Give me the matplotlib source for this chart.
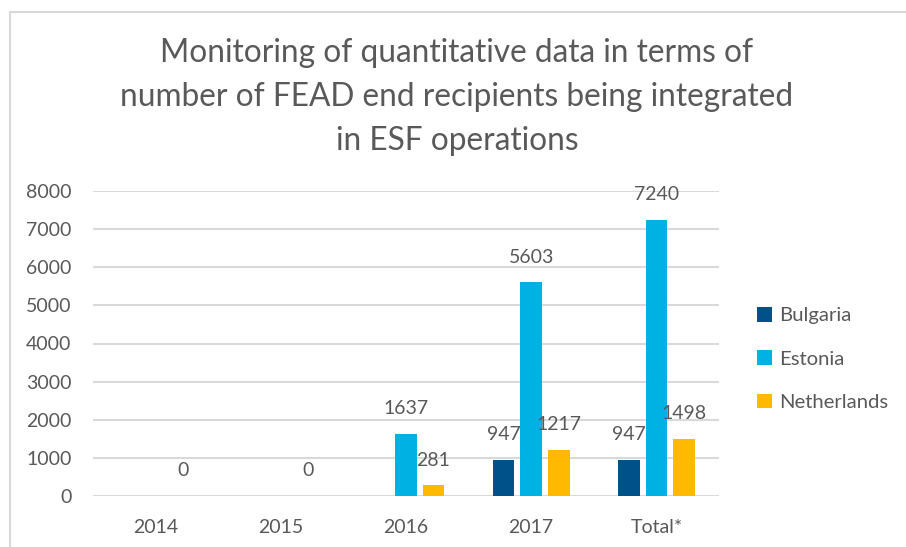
import matplotlib
matplotlib.use("Agg")
import matplotlib.pyplot as plt
import matplotlib.patches as mpatches
import numpy as np

categories = ["2014", "2015", "2016", "2017", "Total*"]
bulgaria = [np.nan, np.nan, np.nan, 947, 947]
estonia = [np.nan, np.nan, 1637, 5603, 7240]
netherlands = [0, 0, 281, 1217, 1498]
series_names = ["Bulgaria", "Estonia", "Netherlands"]
colors = ["#00508A", "#00B2E3", "#FFBA00"]
yticks = [0, 1000, 2000, 3000, 4000, 5000, 6000, 7000, 8000]
title = ("Monitoring of quantitative data in terms of\n"
         "number of FEAD end recipients being integrated\n"
         "in ESF operations")

plt.rcParams['font.family'] = ['Lato', 'DejaVu Sans']
txt = "#595959"
W, H = 906, 547
fig = plt.figure(figsize=(W / 100, H / 100), dpi=100)
fig.patch.set_facecolor("white")

# chart border (left and top visible)
fig.patches.append(mpatches.Rectangle((10 / W, -0.1), 1.2, 1 - 12 / H + 0.1,
                                      transform=fig.transFigure, fill=False,
                                      edgecolor="#D9D9D9", linewidth=1.5))

ax = fig.add_axes([93 / W, (H - 496) / H, (719 - 93) / W, (496 - 191) / H])
x = np.arange(len(categories))
width = 0.172
step = 0.22
series = [bulgaria, estonia, netherlands]
for i, (vals, name, c) in enumerate(zip(series, series_names, colors)):
    off = (i - 1) * step
    ax.bar(x + off, vals, width, color=c, label=name, zorder=3)
    for xi, v in zip(x, vals):
        if not np.isnan(v):
            ax.annotate(f"{int(v)}", (xi + off, v), xytext=(0, 18),
                        textcoords="offset points", ha="center", va="center",
                        fontsize=14, color=txt, zorder=4)

ax.set_xlim(-0.5, len(categories) - 0.5)
ax.set_ylim(0, 8000)
ax.set_yticks(yticks)
ax.set_xticks(x)
ax.set_xticklabels(categories)
ax.tick_params(axis="both", length=0, labelsize=14, labelcolor=txt)
ax.tick_params(axis="x", pad=16.5)
ax.tick_params(axis="y", pad=15.5)
for s in ax.spines.values():
    s.set_visible(False)
ax.grid(axis="y", color="#D9D9D9", linewidth=1.5, zorder=0)
ax.set_axisbelow(True)

fig.text(457 / W, 1 - 97 / H, title, ha="center", va="center", fontsize=22.8,
         color=txt, linespacing=1.6)

leg = fig.legend(loc="center left", bbox_to_anchor=(757 / W, 1 - 359 / H),
                 frameon=False, fontsize=14.6, labelcolor=txt,
                 handlelength=0.72, handleheight=0.72, handletextpad=0.35,
                 labelspacing=1.28, borderaxespad=0, borderpad=0)

fig.savefig("out.png", dpi=100, facecolor="white")
